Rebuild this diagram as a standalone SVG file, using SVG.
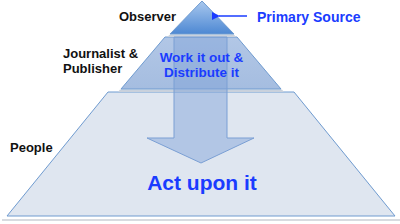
<svg xmlns="http://www.w3.org/2000/svg" width="400" height="224" viewBox="0 0 400 224">
<defs>
<linearGradient id="gTop" x1="0" y1="0" x2="0" y2="1">
<stop offset="0" stop-color="#a9c8ee"/>
<stop offset="1" stop-color="#4d88d3"/>
</linearGradient>
<linearGradient id="gMid" x1="0" y1="0" x2="0" y2="1">
<stop offset="0" stop-color="#b2c7e6"/>
<stop offset="1" stop-color="#a5bde0"/>
</linearGradient>
<marker id="ah" markerWidth="8" markerHeight="8" refX="1" refY="4" orient="auto" markerUnits="userSpaceOnUse">
<path d="M8,0 L0,4 L8,8 Z" fill="#1a3cff"/>
</marker>
</defs>
<style>
.lbl{font-family:"Liberation Sans",Arial,sans-serif;font-weight:bold;font-size:13px;fill:#111}
.blue{font-family:"Liberation Sans",Arial,sans-serif;font-weight:bold;fill:#1a3cff}
.band{stroke:#6f9bd0;stroke-width:1}
.sep{fill:#c9d1dc}
</style>
<rect width="400" height="224" fill="#ffffff"/>
<g id="bottom-band">
<polygon points="2,219 400,219 400,221 2,221" fill="#d8dbe0"/>
<polygon class="band" points="108,92 294,92 395,216 7,216" fill="#dfe6f0"/>
</g>
<g id="middle-band">
<polygon class="sep" points="120,89.5 282,89.5 284,92 118,92"/>
<polygon class="band" points="165,37 237,37 281,89 121,89" fill="url(#gMid)"/>
</g>
<g id="top-triangle">
<polygon class="sep" points="170,34.5 234,34.5 236,37 167,37"/>
<polygon class="band" points="202,1 234,34 170,34" fill="url(#gTop)"/>
</g>
<g id="arrow">
<polygon points="174,37 227,37 227,138 254,138 201,163 147,138 174,138" fill="#7d9fd6" fill-opacity="0.45" stroke="#7a9fd4" stroke-width="1"/>
</g>
<g id="connectors">
<line x1="247" y1="16" x2="219" y2="16" stroke="#1a3cff" stroke-width="1.5" marker-end="url(#ah)"/>
</g>
<g id="labels">
<text class="lbl" x="119" y="21">Observer</text>
<text class="blue" x="257" y="22" font-size="14">Primary Source</text>
<text class="lbl" x="63" y="58">Journalist &amp;</text>
<text class="lbl" x="63" y="73">Publisher</text>
<text class="blue" x="201.5" y="62" font-size="13.5" text-anchor="middle">Work it out &amp;</text>
<text class="blue" x="201.5" y="77" font-size="13.5" text-anchor="middle">Distribute it</text>
<text class="lbl" x="10" y="152">People</text>
<text class="blue" x="202" y="190" font-size="21" text-anchor="middle">Act upon it</text>
</g>
</svg>
